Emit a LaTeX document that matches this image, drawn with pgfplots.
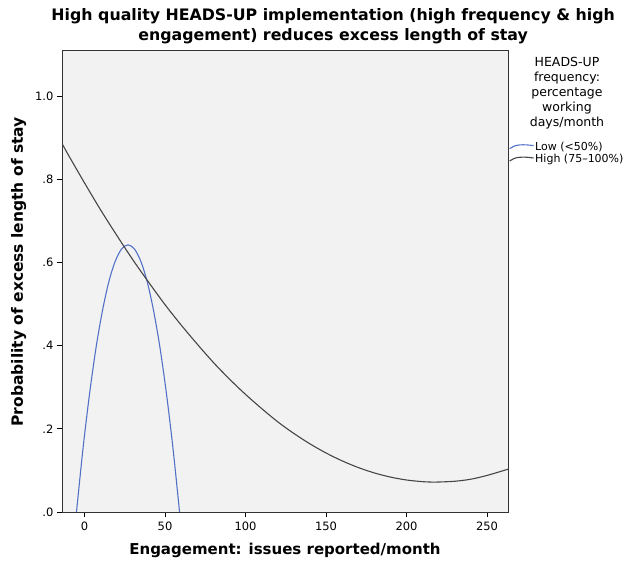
\documentclass[border=0pt]{standalone}
\usepackage{fontspec}
\setmainfont{DejaVu Sans}
\usepackage{pgfplots}
\pgfplotsset{compat=1.18}
\definecolor{lowblue}{RGB}{84,113,200}
\definecolor{highgray}{RGB}{70,70,70}
\begin{document}
\begin{tikzpicture}
\path[use as bounding box] (-62pt,-52pt) rectangle (563pt,512pt);
\begin{axis}[
  name=ax,
  width=446pt, height=462pt, scale only axis,
  xmin=-14, xmax=263, ymin=0, ymax=1.112,
  xtick={0,50,100,150,200,250}, xticklabels={0,50,100,150,200,250},
  ytick={0,0.2,0.4,0.6,0.8,1.0}, yticklabels={.0,.2,.4,.6,.8,1.0},
  tick align=outside, xtick pos=bottom, ytick pos=left,
  major tick length=5pt,
  tick style={black, line width=0.8pt},
  axis line style={black!80, line width=0.8pt},
  axis background/.style={fill=black!5},
  ticklabel style={font=\fontsize{11.5}{13}\selectfont},
  xticklabel style={yshift=-1pt},
  xlabel={Engagement: issues reported/month},
  ylabel={Probability of excess length of stay},
  label style={font=\bfseries\fontsize{15}{18}\selectfont},
  xlabel style={at={(axis description cs:0.5,-0.084)}, anchor=center},
  ylabel style={at={(axis description cs:-0.097,0.52)}, anchor=center, font=\bfseries\fontsize{15.5}{18}\selectfont},
  title={High quality HEADS-UP implementation (high frequency \& high\\engagement) reduces excess length of stay},
  title style={align=center, font=\bfseries\fontsize{15.8}{20.5}\selectfont, at={(axis description cs:0.608,1)}, anchor=south, yshift=-0.5pt, inner sep=0pt},
  legend style={at={(rel axis cs:1.002,0.804)}, anchor=north west, draw=none, fill=none, font=\fontsize{11}{13}\selectfont, row sep=0.5pt, inner sep=0pt, nodes={inner sep=1pt}},
  legend cell align=left,
  legend image code/.code={\draw[#1] (0pt,-2pt) .. controls (5pt,2.5pt) and (14pt,2.5pt) .. (24pt,1pt);},
]
\addplot[lowblue, line width=1.1pt, smooth] coordinates {
(-5,0.000) (-1,0.151) (3,0.281) (7,0.392) (11,0.482) (15,0.553) (19,0.603) (23,0.633) (27,0.643)
(31,0.633) (35,0.603) (39,0.553) (43,0.482) (47,0.392) (51,0.281) (55,0.151) (59,0.000)};
\addlegendentry{Low (<50\%)}
\addplot[highgray, line width=1.1pt, smooth] coordinates {
(-14,0.887) (-10,0.859) (0,0.792) (10,0.727) (20,0.666) (30,0.607) (40,0.552) (50,0.499) (60,0.450)
(70,0.404) (80,0.360) (90,0.320) (100,0.283) (110,0.249) (120,0.217) (130,0.189) (140,0.164)
(150,0.142) (160,0.123) (170,0.107) (180,0.094) (190,0.084) (200,0.077) (210,0.073) (218,0.072)
(230,0.074) (240,0.079) (250,0.088) (263,0.103)};
\addlegendentry{High (75--100\%)}
\end{axis}
\node[align=center, anchor=north, font=\fontsize{12.5}{15}\selectfont, inner sep=0pt] at ([xshift=59pt, yshift=-7pt]ax.north east) {HEADS-UP\\frequency:\\percentage\\working\\days/month};
\end{tikzpicture}
\end{document}
